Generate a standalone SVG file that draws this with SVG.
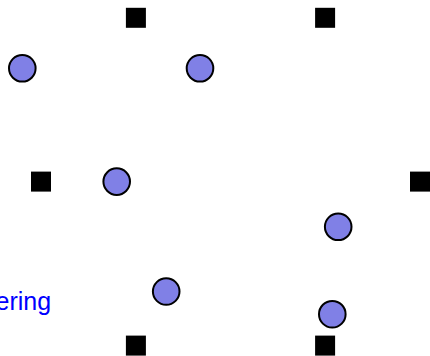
<svg xmlns="http://www.w3.org/2000/svg" width="430" height="356" viewBox="0 0 430 356">
  <style>
    .sq { fill: #000000; }
    .ci { fill: #8080e6; stroke: #000000; stroke-width: 2; }
    .lbl { font-family: "Liberation Sans", Arial, sans-serif; font-size: 25px; fill: #0000ff; }
  </style>
  <rect x="0" y="0" width="430" height="356" fill="#ffffff"/>
  <g id="connectors"></g>
  <g id="sq1"><rect class="sq" x="125.9" y="7.8" width="20" height="20"/></g>
  <g id="sq2"><rect class="sq" x="315.1" y="7.8" width="20" height="20"/></g>
  <g id="sq3"><rect class="sq" x="31" y="171.6" width="20" height="20"/></g>
  <g id="sq4"><rect class="sq" x="410" y="171.6" width="20" height="20"/></g>
  <g id="sq5"><rect class="sq" x="125.9" y="335.6" width="20" height="20"/></g>
  <g id="sq6"><rect class="sq" x="315.1" y="335.6" width="20" height="20"/></g>
  <g id="c1"><circle class="ci" cx="22.3" cy="68.3" r="13.3"/></g>
  <g id="c2"><circle class="ci" cx="200" cy="68.3" r="13.3"/></g>
  <g id="c3"><circle class="ci" cx="116.7" cy="181.6" r="13.3"/></g>
  <g id="c4"><circle class="ci" cx="338.2" cy="226.8" r="13.3"/></g>
  <g id="c5"><circle class="ci" cx="166.2" cy="291.5" r="13.3"/></g>
  <g id="c6"><circle class="ci" cx="332.3" cy="314.2" r="13.3"/></g>
  <g id="label"><text class="lbl" x="-4.5" y="310">ering</text></g>
</svg>
